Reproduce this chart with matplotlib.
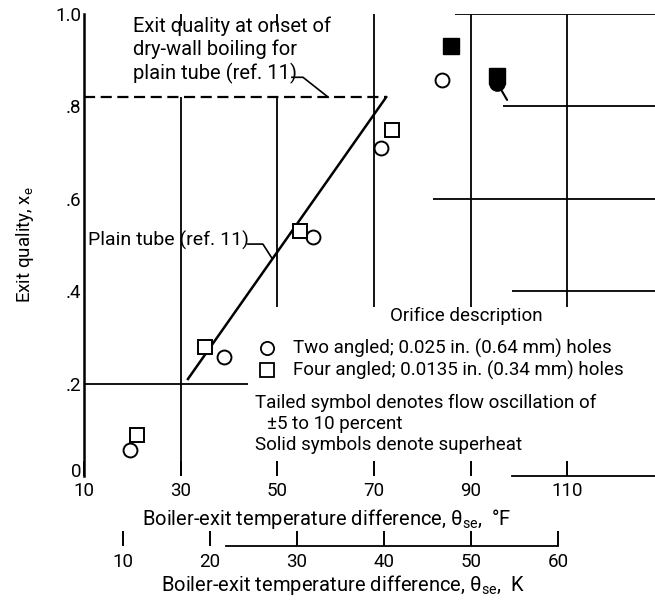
import matplotlib
matplotlib.use("Agg")
import matplotlib.pyplot as plt
from matplotlib.transforms import ScaledTranslation

plt.rcParams['font.family'] = ['Roboto', 'DejaVu Sans']
plt.rcParams['mathtext.fontset'] = 'custom'
plt.rcParams['mathtext.rm'] = 'Roboto'
plt.rcParams['mathtext.it'] = 'Roboto'
plt.rcParams['font.size'] = 13

# Data (theta_se in deg F, exit quality)
two_x = [19.5, 39.0, 57.4, 71.4, 84.0]
two_y = [0.056, 0.257, 0.517, 0.709, 0.858]
four_x = [21.0, 35.0, 54.7, 73.7]
four_y = [0.089, 0.279, 0.530, 0.750]
solid_sq_x = [86.0, 95.5]
solid_sq_y = [0.930, 0.866]
solid_circ_x = [95.5]
solid_circ_y = [0.850]
tail_x = [95.5]
tail_y = [0.850]

plain_x = [31.5, 72.5]
plain_y = [0.21, 0.82]
drywall_q = 0.82

x_ticks = [10, 30, 50, 70, 90, 110]
y_ticks = [0, 0.2, 0.4, 0.6, 0.8, 1.0]
y_labels = ['0', '.2', '.4', '.6', '.8', '1.0']
k_ticks = [10, 20, 30, 40, 50, 60]

fs = 13.5
fs_big = 14.5

fig = plt.figure(figsize=(6.55, 6.01), dpi=100)
ax = fig.add_axes([84 / 655, 125 / 601, 571 / 655, 462 / 601])
ax.set_xlim(10, 128.1)
ax.set_ylim(0, 1.0)

# partial grid as in the original sheet
lw_grid = 1.3
ax.vlines(30, 0, drywall_q, color='k', lw=lw_grid)
ax.vlines([30, 50], 0.975, 1.0, color='k', lw=lw_grid)
ax.vlines(50, 0.365, drywall_q, color='k', lw=lw_grid)
ax.vlines([70, 90, 110], 0.365, 1.0, color='k', lw=lw_grid)
ax.hlines(1.0, 86.7, 128.1, color='k', lw=lw_grid)
ax.hlines(0.8, 96.6, 128.1, color='k', lw=lw_grid)
ax.hlines(0.6, 82.2, 128.1, color='k', lw=lw_grid)
ax.hlines(0.4, 98.5, 128.1, color='k', lw=lw_grid)
ax.hlines(0.2, 10, 44, color='k', lw=lw_grid)

for s in ['top', 'right']:
    ax.spines[s].set_visible(False)
ax.spines['left'].set_linewidth(1.8)
ax.spines['bottom'].set_linewidth(lw_grid)
ax.spines['bottom'].set_bounds(98.5, 128.1)

ax.set_xticks(x_ticks)
ax.set_yticks(y_ticks)
ax.set_yticklabels(y_labels)
ax.tick_params(axis='x', direction='in', length=11, width=1.4, pad=4, labelsize=fs)
ax.tick_params(axis='y', length=0, pad=2, labelsize=fs)
zero_lbl = ax.get_yticklabels()[0]
zero_lbl.set_transform(zero_lbl.get_transform() + ScaledTranslation(0, 4 / 72, fig.dpi_scale_trans))

# plain tube line and dry-wall limit
ax.plot(plain_x, plain_y, color='k', lw=1.8)
ax.plot([10, plain_x[1]], [drywall_q, drywall_q], color='k', lw=1.6, dashes=[5, 2.5])

# data points
ax.plot(two_x, two_y, 'o', ms=10, mfc='white', mec='k', mew=1.4)
ax.plot(four_x, four_y, 's', ms=10, mfc='white', mec='k', mew=1.4)
ax.plot(solid_circ_x, solid_circ_y, 'o', ms=11, mfc='k', mec='k')
ax.plot(solid_sq_x, solid_sq_y, 's', ms=11, mfc='k', mec='k')
for tx, ty in zip(tail_x, tail_y):
    ax.annotate('', xy=(tx, ty), xytext=(7, -12), textcoords='offset points',
                arrowprops=dict(arrowstyle='-', shrinkA=0, shrinkB=0, lw=1.5, color='k'))

# annotations
ax.text(20.1, 0.995, 'Exit quality at onset of\ndry-wall boiling for\nplain tube (ref. 11)',
        ha='left', va='top', linespacing=1.25, fontsize=fs_big)
ax.plot([53.0, 55.3, 60.5], [0.863, 0.863, drywall_q], color='k', lw=1.2)

ax.text(10.8, 0.51, 'Plain tube (ref. 11)', ha='left', va='center', fontsize=14)
ax.plot([43.9, 47.0, 48.9], [0.502, 0.502, 0.471], color='k', lw=1.2)

# key
ax.text(89.0, 0.346, 'Orifice description', ha='center', va='center', fontsize=fs)
ax.plot([47.8], [0.277], 'o', ms=9.5, mfc='white', mec='k', mew=1.3)
ax.text(53.2, 0.277, 'Two angled; 0.025 in. (0.64 mm) holes', ha='left', va='center', fontsize=fs)
ax.plot([47.8], [0.229], 's', ms=9.5, mfc='white', mec='k', mew=1.3)
ax.text(53.2, 0.229, 'Four angled; 0.0135 in. (0.34 mm) holes', ha='left', va='center', fontsize=fs)
ax.text(45.4, 0.158, 'Tailed symbol denotes flow oscillation of', ha='left', va='center', fontsize=fs)
ax.text(47.8, 0.112, '±5 to 10 percent', ha='left', va='center', fontsize=fs)
ax.text(45.4, 0.067, 'Solid symbols denote superheat', ha='left', va='center', fontsize=fs)

ax.set_ylabel(r'Exit quality, x$_{\mathrm{e}}$', fontsize=fs, labelpad=14)
ax.text(0.4256, -0.092, r'Boiler-exit temperature difference, θ$_{\mathrm{se}}$,  °F',
        transform=ax.transAxes, ha='center', va='center', fontsize=fs_big)

# Kelvin scale below
sec = ax.secondary_xaxis(-0.152, functions=(lambda f: f / 1.8, lambda k: k * 1.8))
sec.set_xticks(k_ticks)
sec.tick_params(direction='in', length=11, width=1.4, pad=5, labelsize=fs)
sec.spines['bottom'].set_linewidth(lw_grid)
sec.spines['bottom'].set_bounds(21.9, 60)
ax.text(0.4536, -0.237, r'Boiler-exit temperature difference, θ$_{\mathrm{se}}$,  K',
        transform=ax.transAxes, ha='center', va='center', fontsize=fs_big)

fig.savefig('out.png', dpi=100)
